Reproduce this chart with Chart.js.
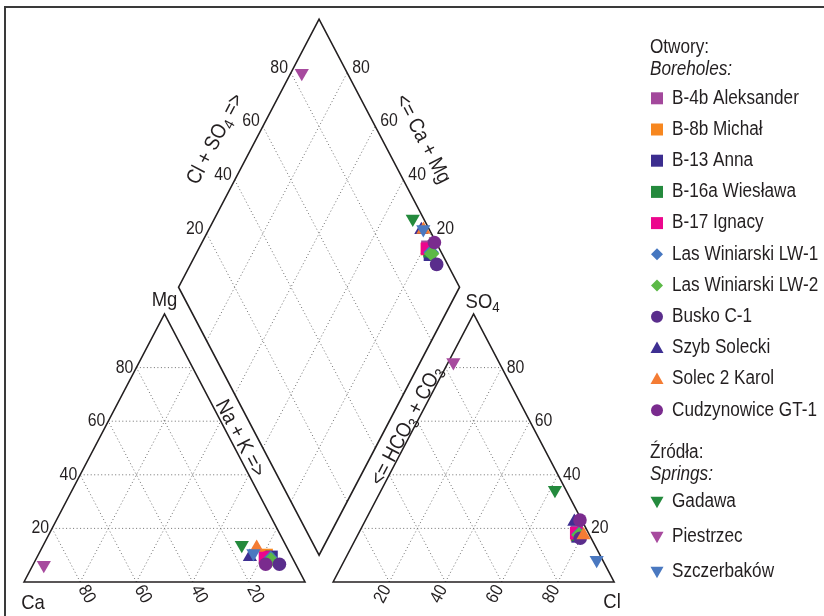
<!DOCTYPE html>
<html>
<head>
<meta charset="utf-8">
<script src="https://cdn.jsdelivr.net/npm/chart.js@4.4.1/dist/chart.umd.min.js"></script>
<style>
  html, body { margin: 0; padding: 0; background: #fff; }
  #wrap { width: 824px; height: 616px; }
</style>
</head>
<body>
<div id="wrap"><canvas id="piper" width="824" height="616"></canvas></div>
<script>
// ---- data (% meq) ----
var sampleNames = ['B-4b Aleksander', 'B-8b Michał', 'B-13 Anna', 'B-16a Wiesława', 'B-17 Ignacy',
    'Las Winiarski LW-1', 'Las Winiarski LW-2', 'Busko C-1', 'Szyb Solecki', 'Solec 2 Karol',
    'Cudzynowice GT-1', 'Gadawa', 'Piestrzec', 'Szczerbaków'];
// cations
var mgPct  = [9.5, 10.1, 9.4, 8.6, 9.2, 8.8, 8.2, 6.6, 9.4, 12.8, 6.6, 13.8, 6.3, 10.7];
var nakPct = [81.0, 81.3, 83.4, 82.6, 81.2, 83.4, 83.8, 87.6, 75.7, 76.4, 82.7, 70.6, 3.9, 76.3];
// anions
var so4Pct = [18.8, 17.5, 17.0, 17.6, 18.2, 17.8, 17.5, 16.3, 22.5, 17.5, 23.1, 34.3, 82.0, 8.2];
var clPct  = [77.3, 78.0, 78.5, 78.4, 77.4, 78.6, 78.8, 79.8, 74.6, 80.4, 76.3, 61.8, 1.8, 89.7];
// b = borehole (Otwory), s = spring (Źródła)
var sampleGroup = ['b', 'b', 'b', 'b', 'b', 'b', 'b', 'b', 'b', 'b', 'b', 's', 's', 's'];
var markerShape = ['rect', 'rect', 'rect', 'rect', 'rect', 'rectRot', 'rectRot', 'circle',
    'triangle', 'triangle', 'circle', 'triangleDown', 'triangleDown', 'triangleDown'];
var markerColor = ['#a3489c', '#f7871f', '#3c2d8f', '#248a3d', '#ec068d', '#4677c0', '#5cb947',
    '#5a2d8c', '#3e2f92', '#f47c34', '#7a2b8e', '#248a3d', '#a74a9e', '#4a78c0'];
var tickValues = [20, 40, 60, 80];

var FONT = "'Liberation Sans', Arial, sans-serif";
var SQUEEZE = 0.88; // the original uses a condensed face
var GAP = 10; // gap between the two triangles, in % of a side

// ternary -> piper plane (triangle side = 100)
function cationXY(mg, nak) { return { x: nak + mg / 2, y: mg }; }
function anionXY(so4, cl) { return { x: 100 + GAP + cl + so4 / 2, y: so4 }; }
function diamondXY(nak, a) {
    var y = 100 + GAP + a - nak;
    return { x: nak + y / 2, y: y };
}

var markerRadius = { rect: 8.8, rectRot: 7.8, circle: 6.8, triangle: 8.2, triangleDown: 8.2 };

var datasets = sampleNames.map(function (name, i) {
    var shape = markerShape[i];
    return {
        label: name,
        data: [
            cationXY(mgPct[i], nakPct[i]),
            anionXY(so4Pct[i], clPct[i]),
            diamondXY(nakPct[i], so4Pct[i] + clPct[i])
        ],
        pointStyle: shape == 'triangleDown' ? 'triangle' : shape,
        rotation: shape == 'triangleDown' ? 180 : 0,
        pointRadius: markerRadius[shape],
        pointHoverRadius: markerRadius[shape],
        backgroundColor: markerColor[i],
        borderWidth: 0,
        order: -i
    };
});

function drawMarker(ctx, shape, color, x, y) {
    ctx.fillStyle = color;
    ctx.beginPath();
    if (shape == 'rect') {
        ctx.rect(x - 6, y - 6, 12, 12);
    } else if (shape == 'rectRot') {
        ctx.moveTo(x, y - 6); ctx.lineTo(x + 6, y); ctx.lineTo(x, y + 6); ctx.lineTo(x - 6, y);
    } else if (shape == 'circle') {
        ctx.arc(x, y, 6, 0, Math.PI * 2);
    } else if (shape == 'triangle') {
        ctx.moveTo(x, y - 6.5); ctx.lineTo(x + 6.5, y + 5); ctx.lineTo(x - 6.5, y + 5);
    } else {
        ctx.moveTo(x, y + 6.5); ctx.lineTo(x + 6.5, y - 5); ctx.lineTo(x - 6.5, y - 5);
    }
    ctx.closePath();
    ctx.fill();
}

// condensed text at (x, y), optionally rotated
function textC(ctx, txt, x, y, align, rot, font) {
    ctx.save();
    ctx.translate(x, y);
    if (rot) ctx.rotate(rot);
    ctx.scale(SQUEEZE, 1);
    ctx.font = font;
    ctx.textAlign = align;
    ctx.textBaseline = 'middle';
    ctx.fillText(txt, 0, 0);
    ctx.restore();
}

// text made of pieces, some as subscripts; centred on (0,0) of current transform
function richText(ctx, parts, size) {
    var w = 0;
    ctx.scale(SQUEEZE, 1);
    parts.forEach(function (p) {
        ctx.font = (p[1] ? size * 0.72 : size) + 'px ' + FONT;
        w += ctx.measureText(p[0]).width;
    });
    var x = -w / 2;
    ctx.textAlign = 'left';
    ctx.textBaseline = 'middle';
    parts.forEach(function (p) {
        ctx.font = (p[1] ? size * 0.72 : size) + 'px ' + FONT;
        ctx.fillText(p[0], x, p[1] ? size * 0.28 : 0);
        x += ctx.measureText(p[0]).width;
    });
}

var piperFrame = {
    id: 'piperFrame',
    beforeDatasetsDraw: function (chart) {
        var ctx = chart.ctx, xs = chart.scales.x, ys = chart.scales.y;
        function P(p) { return [xs.getPixelForValue(p.x), ys.getPixelForValue(p.y)]; }
        function seg(a, b) {
            var A = P(a), B = P(b);
            ctx.moveTo(A[0], A[1]); ctx.lineTo(B[0], B[1]);
        }
        function poly(pts) {
            pts.forEach(function (p, j) {
                var A = P(p);
                if (j == 0) ctx.moveTo(A[0], A[1]); else ctx.lineTo(A[0], A[1]);
            });
            ctx.closePath();
        }
        ctx.save();

        // outer frame
        ctx.strokeStyle = '#3a3a3a';
        ctx.lineWidth = 2;
        ctx.beginPath();
        ctx.moveTo(5, 616); ctx.lineTo(5, 7); ctx.lineTo(824, 7);
        ctx.stroke();

        // dotted grid
        ctx.beginPath();
        tickValues.forEach(function (k) {
            seg(cationXY(k, 0), cationXY(k, 100 - k));
            seg(cationXY(0, k), cationXY(100 - k, k));
            seg(cationXY(0, 100 - k), cationXY(100 - k, 0));
            seg(anionXY(k, 0), anionXY(k, 100 - k));
            seg(anionXY(0, k), anionXY(100 - k, k));
            seg(anionXY(0, 100 - k), anionXY(100 - k, 0));
            seg(diamondXY(k, 0), diamondXY(k, 100));
            seg(diamondXY(0, k), diamondXY(100, k));
        });
        ctx.setLineDash([1, 2.5]);
        ctx.strokeStyle = '#707070';
        ctx.lineWidth = 1;
        ctx.stroke();

        // outlines
        ctx.setLineDash([]);
        ctx.beginPath();
        poly([cationXY(0, 0), cationXY(100, 0), cationXY(0, 100)]);
        poly([anionXY(0, 0), anionXY(100, 0), anionXY(0, 100)]);
        poly([diamondXY(100, 0), diamondXY(0, 0), diamondXY(0, 100), diamondXY(100, 100)]);
        ctx.strokeStyle = '#231f20';
        ctx.lineWidth = 1.6;
        ctx.stroke();

        // tick labels
        var A0 = P(cationXY(0, 0)), A1 = P(cationXY(100, 0));
        var steep = Math.atan2(A0[1] - A1[1], A1[0] - A0[0]); // ~62 deg
        var cs = Math.cos(steep), sn = Math.sin(steep);
        ctx.fillStyle = '#231f20';
        var tf = '18px ' + FONT;
        tickValues.forEach(function (k) {
            var p;
            p = P(cationXY(k, 0));                 // Mg
            textC(ctx, String(k), p[0] - 3, p[1], 'right', 0, tf);
            p = P(cationXY(0, 100 - k));           // Ca
            textC(ctx, String(k), p[0] + cs * 5, p[1] + sn * 5, 'left', steep, tf);
            p = P(anionXY(0, k));                  // Cl
            textC(ctx, String(k), p[0] - cs * 5, p[1] + sn * 5, 'right', -steep, tf);
            p = P(anionXY(k, 100 - k));            // SO4
            textC(ctx, String(k), p[0] + 5, p[1], 'left', 0, tf);
            p = P(diamondXY(0, k));                // Cl + SO4
            textC(ctx, String(k), p[0] - 3, p[1] - 5, 'right', 0, tf);
            p = P(diamondXY(100 - k, 100));        // Ca + Mg
            textC(ctx, String(k), p[0] + 5, p[1] - 5, 'left', 0, tf);
        });

        // corner labels
        var q, cf = '21px ' + FONT;
        q = P(cationXY(100, 0)); textC(ctx, 'Mg', q[0], q[1] - 14, 'center', 0, cf);
        q = P(cationXY(0, 0)); textC(ctx, 'Ca', q[0] + 9, q[1] + 21, 'center', 0, cf);
        q = P(anionXY(0, 100)); textC(ctx, 'Cl', q[0] - 2, q[1] + 20, 'center', 0, cf);
        q = P(anionXY(100, 0));
        ctx.save(); ctx.translate(q[0] + 9, q[1] - 12);
        richText(ctx, [['SO', false], ['4', true]], 21);
        ctx.restore();

        // side titles
        function sideTitle(pt, nx, ny, rot, parts) {
            var c = P(pt);
            ctx.save();
            ctx.translate(c[0] + nx, c[1] + ny);
            ctx.rotate(rot);
            richText(ctx, parts, 21);
            ctx.restore();
        }
        sideTitle(cationXY(52, 48), 9 * sn, -9 * cs, steep, [['Na + K =>', false]]);
        sideTitle(anionXY(57, 0), -7 * sn, -7 * cs, -steep, [['<= HCO', false], ['3', true], [' + CO', false], ['3', true]]);
        sideTitle(diamondXY(0, 49), -36 * sn, -36 * cs, -steep, [['Cl + SO', false], ['4', true], [' =>', false]]);
        sideTitle(diamondXY(51, 100), 36 * sn, -36 * cs, steep, [['<= Ca + Mg', false]]);

        ctx.restore();
    },
    afterDraw: function (chart) {
        var ctx = chart.ctx;
        ctx.save();
        var textX = 672, markX = 657;
        var lf = '19.5px ' + FONT, lfi = 'italic 19.5px ' + FONT;
        ctx.fillStyle = '#231f20';
        textC(ctx, 'Otwory:', 650, 48, 'left', 0, lf);
        textC(ctx, 'Boreholes:', 650, 70, 'left', 0, lfi);
        var y = 98.3;
        sampleNames.forEach(function (name, i) {
            if (sampleGroup[i] != 'b') return;
            drawMarker(ctx, markerShape[i], markerColor[i], markX, y);
            ctx.fillStyle = '#231f20';
            textC(ctx, name, textX, y, 'left', 0, lf);
            y += 31.2;
        });
        textC(ctx, 'Źródła:', 650, 453, 'left', 0, lf);
        textC(ctx, 'Springs:', 650, 475, 'left', 0, lfi);
        y = 501.7;
        sampleNames.forEach(function (name, i) {
            if (sampleGroup[i] != 's') return;
            drawMarker(ctx, markerShape[i], markerColor[i], markX, y);
            ctx.fillStyle = '#231f20';
            textC(ctx, name, textX, y, 'left', 0, lf);
            y += 35;
        });
        ctx.restore();
    }
};

var ctx = document.getElementById('piper');
var piperChart = new Chart(ctx, {
    type: 'scatter',
    data: { datasets: datasets },
    options: {
        responsive: false,
        animation: false,
        layout: { padding: 0, autoPadding: false },
        plugins: {
            legend: { display: false },
            tooltip: { enabled: true }
        },
        scales: {
            // 2.81 px per unit across, 2.68 px per unit up; Ca corner at (24, 582)
            x: { type: 'linear', display: false, min: -24 / 2.81, max: 800 / 2.81 },
            y: { type: 'linear', display: false, min: -34 / 2.68, max: 582 / 2.68 }
        }
    },
    plugins: [piperFrame]
});
</script>
</body>
</html>
